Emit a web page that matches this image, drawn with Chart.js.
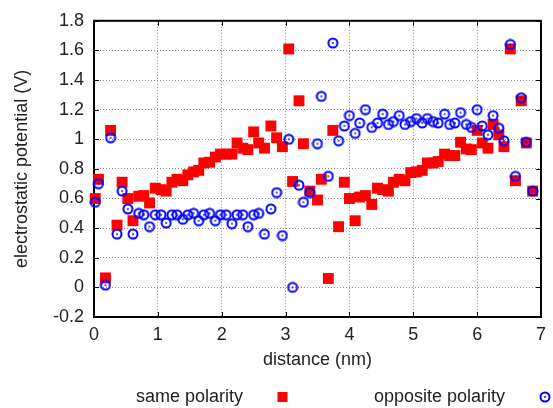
<!DOCTYPE html>
<html>
<head>
<meta charset="utf-8">
<script src="https://cdn.jsdelivr.net/npm/chart.js@4"></script>
<style>
  html, body { margin: 0; padding: 0; background: #fff; }
</style>
</head>
<body>
<canvas id="potentialChart" width="553" height="408"></canvas>
<script>
// distance along the pore (nm), shared by both series
const distance = [
  0.02, 0.07, 0.18, 0.26, 0.36, 0.44, 0.53, 0.61, 0.70, 0.78,
  0.87, 0.96, 1.05, 1.13, 1.22, 1.30, 1.39, 1.47, 1.56, 1.64,
  1.72, 1.81, 1.90, 1.98, 2.07, 2.16, 2.24, 2.33, 2.41, 2.50,
  2.58, 2.67, 2.77, 2.86, 2.95, 3.05, 3.11, 3.21, 3.28, 3.38,
  3.50, 3.56, 3.67, 3.74, 3.83, 3.92, 4.00, 4.09, 4.16, 4.25,
  4.35, 4.44, 4.52, 4.61, 4.69, 4.78, 4.87, 4.96, 5.05, 5.14,
  5.22, 5.31, 5.39, 5.49, 5.57, 5.65, 5.74, 5.83, 5.91, 6.00,
  6.08, 6.17, 6.25, 6.34, 6.42, 6.52, 6.60, 6.69, 6.77, 6.87
];

// electrostatic potential (V)
const samePolarity = [
  0.60, 0.73, 0.064, 1.06, 0.42, 0.71, 0.60, 0.45, 0.615, 0.62,
  0.57, 0.67, 0.66, 0.65, 0.71, 0.73, 0.72, 0.76, 0.78, 0.79,
  0.84, 0.845, 0.88, 0.90, 0.90, 0.90, 0.975, 0.94, 0.93, 1.05,
  0.975, 0.94, 1.09, 1.01, 0.95, 1.61, 0.715, 1.26, 0.97, 0.65,
  0.59, 0.73, 0.06, 1.06, 0.41, 0.71, 0.60, 0.45, 0.61, 0.62,
  0.56, 0.67, 0.66, 0.65, 0.71, 0.73, 0.72, 0.775, 0.78, 0.79,
  0.84, 0.84, 0.85, 0.90, 0.89, 0.89, 0.98, 0.935, 0.93, 1.06,
  0.975, 0.94, 1.10, 1.03, 0.95, 1.61, 0.72, 1.26, 0.975, 0.65
];

const oppositePolarity = [
  0.575, 0.70, 0.015, 1.01, 0.36, 0.65, 0.53, 0.36, 0.50, 0.49,
  0.41, 0.49, 0.49, 0.435, 0.49, 0.49, 0.46, 0.49, 0.50, 0.45,
  0.49, 0.50, 0.45, 0.49, 0.49, 0.43, 0.49, 0.49, 0.41, 0.49,
  0.50, 0.36, 0.53, 0.64, 0.35, 1.00, 0.00, 0.69, 0.575, 0.64,
  0.97, 1.29, 0.75, 1.65, 0.99, 1.09, 1.16, 1.04, 1.11, 1.20,
  1.08, 1.11, 1.17, 1.10, 1.12, 1.16, 1.10, 1.12, 1.14, 1.11,
  1.14, 1.12, 1.11, 1.17, 1.10, 1.11, 1.18, 1.10, 1.08, 1.20,
  1.09, 1.03, 1.16, 1.075, 0.99, 1.64, 0.75, 1.28, 0.98, 0.65
];

const seriesNames = ['same polarity', 'opposite polarity'];
const xRange = [0, 7];
const yRange = [-0.2, 1.8];

const FONT = { family: "'Liberation Sans', Arial, sans-serif", size: 18 };
const TEXT = '#222';

// circle with a dot in the middle (gnuplot style)
function ringMarker(size) {
  const c = document.createElement('canvas');
  c.width = c.height = size;
  const g = c.getContext('2d');
  g.strokeStyle = '#0000ff';
  g.lineWidth = 2;
  g.beginPath();
  g.arc(size / 2, size / 2, size / 2 - 1.5, 0, Math.PI * 2);
  g.stroke();
  g.fillStyle = '#0000ff';
  g.beginPath();
  g.arc(size / 2, size / 2, 0.9, 0, Math.PI * 2);
  g.fill();
  return c;
}
const ring = ringMarker(12);

const toPoints = ys => ys.map((y, i) => ({ x: distance[i], y: y }));

// black box, inward ticks on all sides, and the bottom key
const framePlugin = {
  id: 'frame',
  beforeDatasetsDraw(chart) {
    const { ctx, chartArea: a, scales } = chart;
    ctx.save();
    ctx.strokeStyle = '#000';
    ctx.lineWidth = 1;
    scales.x.ticks.forEach(t => {
      const px = Math.round(scales.x.getPixelForValue(t.value)) + 0.5;
      ctx.beginPath();
      ctx.moveTo(px, a.bottom); ctx.lineTo(px, a.bottom - 5);
      ctx.moveTo(px, a.top); ctx.lineTo(px, a.top + 5);
      ctx.stroke();
    });
    scales.y.ticks.forEach(t => {
      const py = Math.round(scales.y.getPixelForValue(t.value)) + 0.5;
      ctx.beginPath();
      ctx.moveTo(a.left, py); ctx.lineTo(a.left + 5, py);
      ctx.moveTo(a.right, py); ctx.lineTo(a.right - 5, py);
      ctx.stroke();
    });
    ctx.lineWidth = 2;
    ctx.strokeRect(a.left, a.top, a.right - a.left, a.bottom - a.top);
    ctx.restore();
  },
  afterDraw(chart) {
    const ctx = chart.ctx;
    const y = 397;
    ctx.save();
    ctx.font = FONT.size + 'px ' + FONT.family;
    ctx.fillStyle = TEXT;
    ctx.textAlign = 'right';
    ctx.textBaseline = 'middle';
    ctx.fillText(seriesNames[0], 243, y);
    ctx.fillText(seriesNames[1], 505, y);
    ctx.fillStyle = '#ff0000';
    ctx.fillRect(277.5, y - 5, 10, 10);
    ctx.drawImage(ring, 545 - 6, y - 6);
    ctx.restore();
  }
};

new Chart(document.getElementById('potentialChart'), {
  type: 'scatter',
  data: {
    datasets: [
      {
        label: seriesNames[0],
        data: toPoints(samePolarity),
        pointStyle: 'rect',
        pointRadius: 7.7,
        pointBackgroundColor: '#ff0000',
        pointBorderWidth: 0,
        order: 2,
        clip: false
      },
      {
        label: seriesNames[1],
        data: toPoints(oppositePolarity),
        pointStyle: ring,
        pointRadius: 6,
        order: 1,
        clip: false
      }
    ]
  },
  options: {
    responsive: false,
    animation: false,
    layout: { padding: { top: 15, right: 7, bottom: 37, left: 0 } },
    plugins: {
      legend: { display: false },
      tooltip: { enabled: false }
    },
    scales: {
      x: {
        type: 'linear',
        min: xRange[0],
        max: xRange[1],
        ticks: { stepSize: 1, padding: 7, color: TEXT, font: FONT },
        grid: { color: '#8a8a8a', drawTicks: false },
        border: { display: false, dash: [1, 2] },
        title: { display: true, text: 'distance (nm)', color: TEXT, font: FONT, padding: 0 },
        afterFit: s => { s.height = 54; }
      },
      y: {
        min: yRange[0],
        max: yRange[1],
        ticks: {
          stepSize: 0.2, padding: 10, color: TEXT, font: FONT,
          callback: v => String(Number(v.toFixed(1)))
        },
        grid: { color: '#8a8a8a', drawTicks: false },
        border: { display: false, dash: [1, 2] },
        title: {
          display: true, text: 'electrostatic potential (V)', color: TEXT, font: FONT,
          padding: { top: 11, bottom: 0 }
        },
        afterFit: s => { s.width = 94; }
      }
    }
  },
  plugins: [framePlugin]
});
</script>
</body>
</html>
